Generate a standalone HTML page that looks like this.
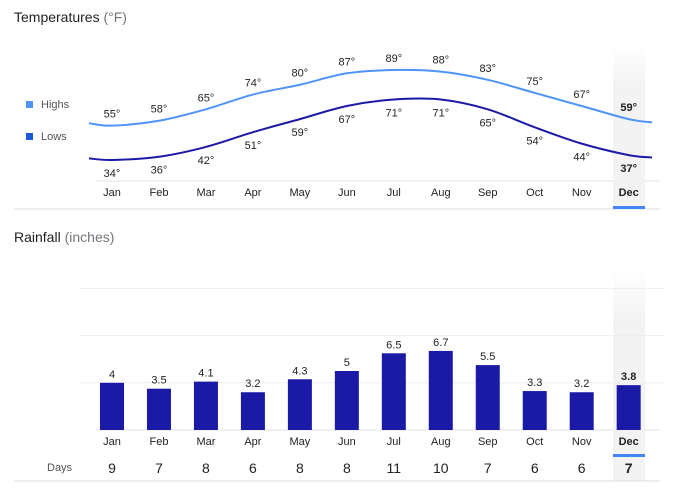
<!DOCTYPE html>
<html><head><meta charset="utf-8"><style>
body{margin:0;background:#fff;font-family:"Liberation Sans",Arial,sans-serif;}
svg{display:block}
</style></head><body>
<svg id="chart" width="680" height="489" xmlns="http://www.w3.org/2000/svg" font-family="Liberation Sans, Arial, sans-serif">
<defs>
<linearGradient id="hl" x1="0" y1="0" x2="0" y2="1"><stop offset="0" stop-color="#f3f3f3" stop-opacity="0"/><stop offset="0.25" stop-color="#f3f3f3"/><stop offset="1" stop-color="#f3f3f3"/></linearGradient>
</defs>
<rect x="613" y="45" width="32" height="163" fill="url(#hl)"/>
<rect x="613" y="268" width="32" height="213" fill="url(#hl)"/>
<text x="14" y="22" font-size="14" fill="#222">Temperatures <tspan fill="#70757a">(°F)</tspan></text>
<rect x="26" y="101" width="7" height="7" fill="#4f94f8"/>
<text x="41" y="108" font-size="11" fill="#555">Highs</text>
<rect x="26" y="133" width="7" height="7" fill="#1a5ad8"/>
<text x="41" y="140" font-size="11" fill="#555">Lows</text>
<line x1="96" y1="181" x2="660" y2="181" stroke="#f1f1f1" stroke-width="2"/>
<line x1="14" y1="209" x2="660" y2="209" stroke="#dadce0"/>
<rect x="613" y="206" width="32" height="3" fill="#4285f4"/>
<text x="14" y="242" font-size="14" fill="#222">Rainfall <tspan fill="#70757a">(inches)</tspan></text>
<text x="47" y="471" font-size="11" fill="#555">Days</text>
<line x1="14" y1="481" x2="660" y2="481" stroke="#dadce0"/>
<rect x="613" y="454" width="32" height="3" fill="#4285f4"/>
<g id="temp"></g><g id="rain"></g>
</svg>
<script>
const months=["Jan","Feb","Mar","Apr","May","Jun","Jul","Aug","Sep","Oct","Nov","Dec"];
const highs=[55,58,65,74,80,87,89,88,83,75,67,59];
const lows=[34,36,42,51,59,67,71,71,65,54,44,37];
const highEdges=[56.5,57];
const lowEdges=[35,35.5];
const rainfall=[4,3.5,4.1,3.2,4.3,5,6.5,6.7,5.5,3.3,3.2,3.8];
const rainDays=[9,7,8,6,8,8,11,10,7,6,6,7];
const rainTicks=[4,8,12];
const NS="http://www.w3.org/2000/svg";
const xm=i=>112+i*46.97;
const yT=v=>160-(v-34)*1.636;
const yR=v=>430-v*11.8;
function mk(tag,attrs,parent,text){const e=document.createElementNS(NS,tag);for(const k in attrs)e.setAttribute(k,attrs[k]);if(text!==undefined)e.textContent=text;parent.appendChild(e);return e;}
const T=document.getElementById('temp'),R=document.getElementById('rain');
function path(vals,edges){
  const p=[[89,yT(edges[0])]].concat(vals.map((v,i)=>[xm(i),yT(v)])).concat([[652,yT(edges[1])]]);
  let d="M"+p[0][0]+","+p[0][1];
  for(let i=0;i<p.length-1;i++){
    const a=p[Math.max(i-1,0)],b=p[i],c=p[i+1],e=p[Math.min(i+2,p.length-1)];
    const c1x=b[0]+(c[0]-a[0])/6,c1y=b[1]+(c[1]-a[1])/6;
    const c2x=c[0]-(e[0]-b[0])/6,c2y=c[1]-(e[1]-b[1])/6;
    d+=" C"+c1x+","+c1y+" "+c2x+","+c2y+" "+c[0]+","+c[1];
  }
  return d;
}
let e=mk('path',{d:path(highs,highEdges),fill:'none',stroke:'#4f94f8','stroke-width':2},T);


e=mk('path',{d:path(lows,lowEdges),fill:'none',stroke:'#1a1aa6','stroke-width':2},T);


rainTicks.forEach(t=>{
  const g=mk('line',{x1:80,x2:665,y1:yR(t),y2:yR(t),stroke:'#eeeeee'},R);
  
  
});
let b=mk('line',{x1:96,x2:660,y1:430,y2:430,stroke:'#f1f1f1','stroke-width':2},R);


months.forEach((m,i)=>{
  const x=xm(i),dec=i===11,fw=dec?'bold':'normal',col='#222';
  let t=mk('text',{x:x,y:yT(highs[i])-8,'text-anchor':'middle','font-size':11,'font-weight':fw,fill:col},T,highs[i]+"°");
  
  
  t=mk('text',{x:x,y:yT(lows[i])+17,'text-anchor':'middle','font-size':11,'font-weight':fw,fill:col},T,lows[i]+"°");
  
  
  t=mk('text',{x:x,y:196,'text-anchor':'middle','font-size':11,'font-weight':fw,fill:'#222'},T,m);
  
  
  const r=mk('rect',{x:x-12,y:yR(rainfall[i]),width:24,height:430-yR(rainfall[i]),fill:'#1a1aa6'},R);
  
  
  t=mk('text',{x:x,y:yR(rainfall[i])-5,'text-anchor':'middle','font-size':11,'font-weight':fw,fill:'#222'},R,String(rainfall[i]));
  
  
  t=mk('text',{x:x,y:445,'text-anchor':'middle','font-size':11,'font-weight':fw,fill:'#222'},R,m);
  
  
  t=mk('text',{x:x,y:473,'text-anchor':'middle','font-size':14,'font-weight':fw,fill:'#222'},R,String(rainDays[i]));
  
  
});
</script>
</body></html>
